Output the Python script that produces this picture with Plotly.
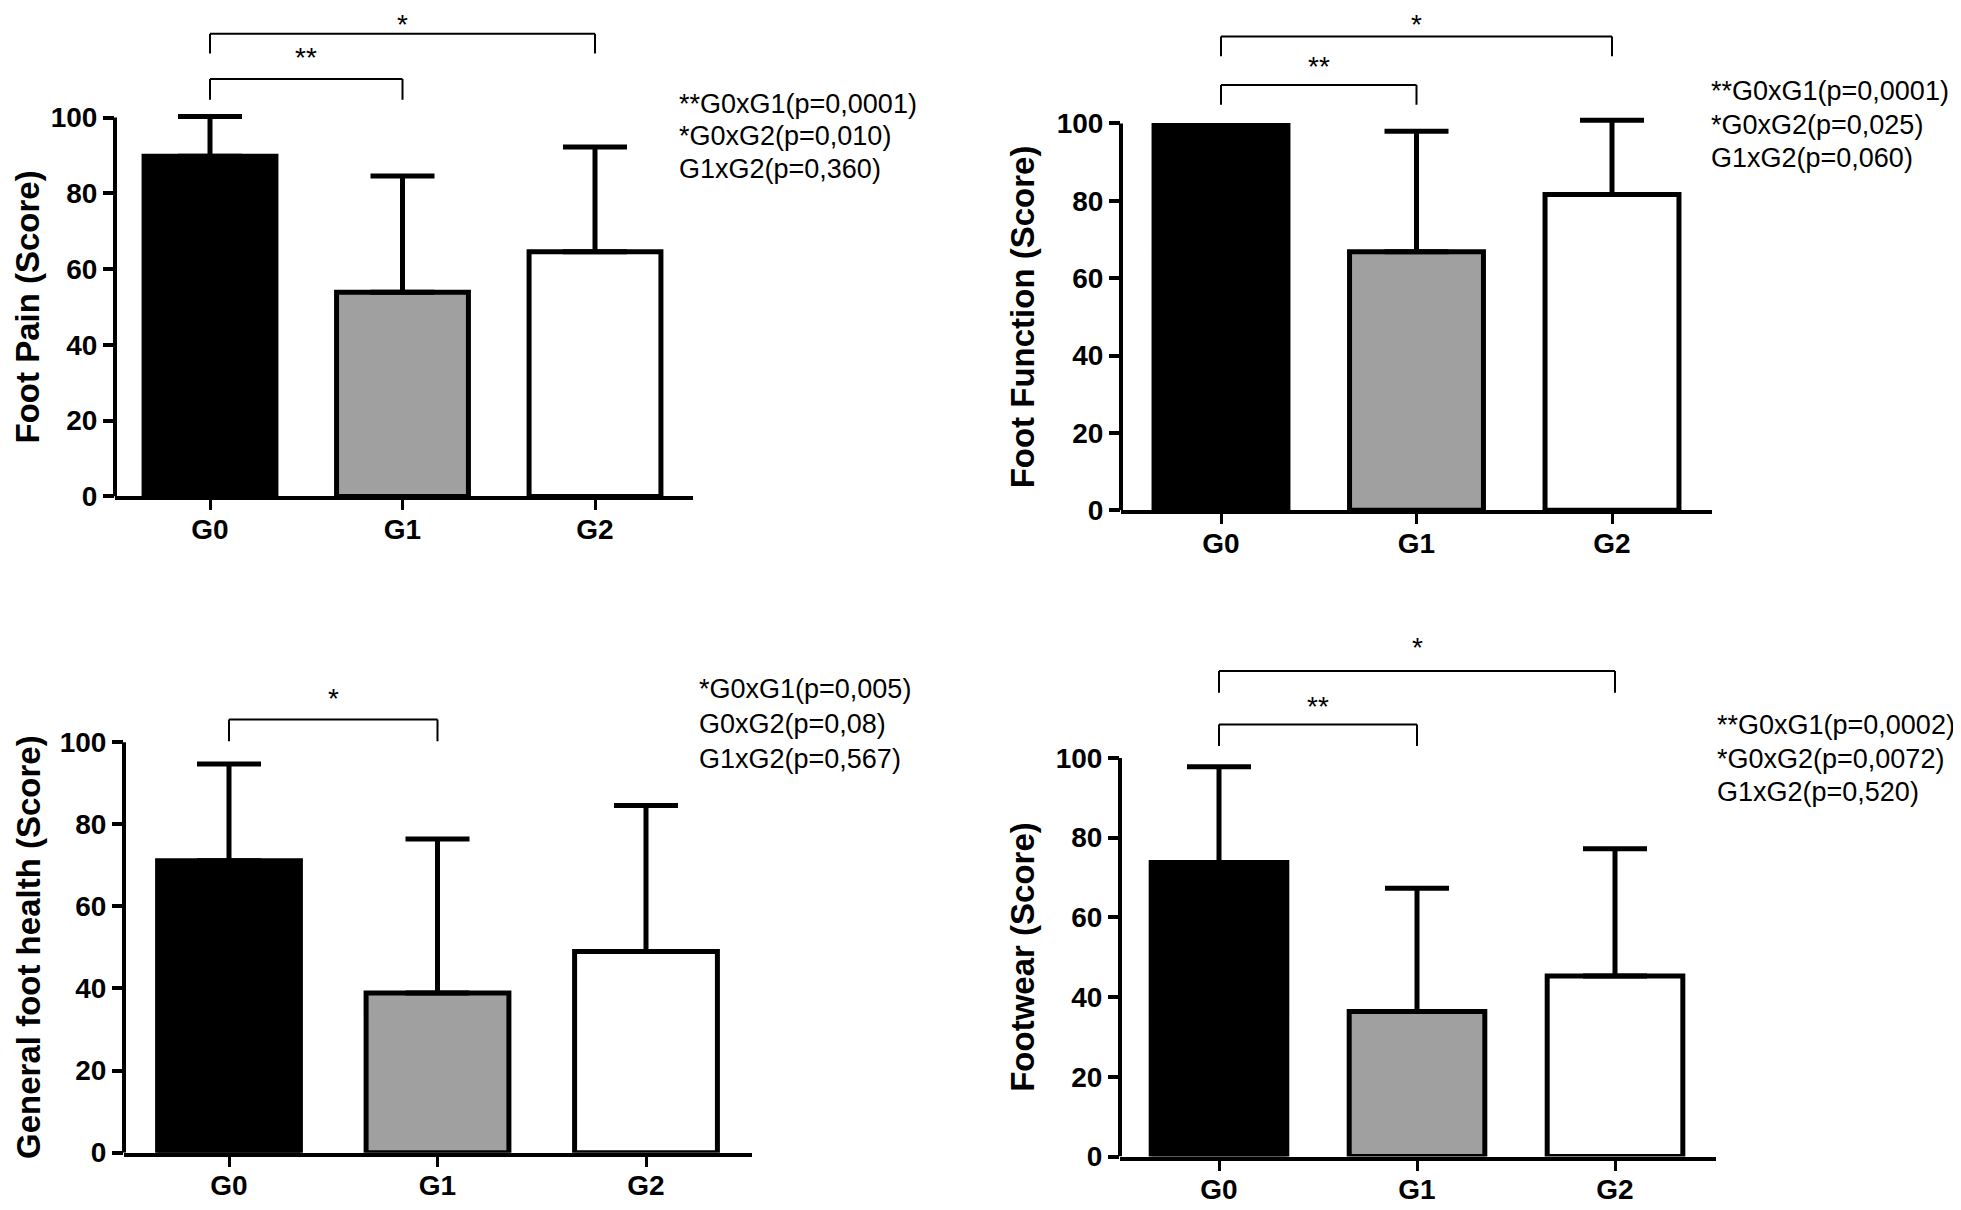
import plotly.graph_objects as go

W, H = 1961, 1210

groups = ["G0", "G1", "G2"]
bar_colors = ["#000000", "#a0a0a0", "#ffffff"]
y_ticks = [0, 20, 40, 60, 80, 100]

pain_mean = [89.8, 53.9, 64.6]
pain_sd = [10.5, 30.7, 27.6]
pain_pvals = ["**G0xG1(p=0,0001)", "*G0xG2(p=0,010)", "G1xG2(p=0,360)"]
pain_pairs = [(0, 2, "*"), (0, 1, "**")]

function_mean = [99.5, 66.8, 81.6]
function_sd = [0.0, 31.2, 19.2]
function_pvals = ["**G0xG1(p=0,0001)", "*G0xG2(p=0,025)", "G1xG2(p=0,060)"]
function_pairs = [(0, 2, "*"), (0, 1, "**")]

health_mean = [71.1, 38.9, 49.0]
health_sd = [23.6, 37.5, 35.6]
health_pvals = ["*G0xG1(p=0,005)", "G0xG2(p=0,08)", "G1xG2(p=0,567)"]
health_pairs = [(0, 1, "*")]

footwear_mean = [73.8, 36.4, 45.3]
footwear_sd = [24.0, 30.9, 31.9]
footwear_pvals = ["**G0xG1(p=0,0002)", "*G0xG2(p=0,0072)", "G1xG2(p=0,520)"]
footwear_pairs = [(0, 2, "*"), (0, 1, "**")]

titles = ["Foot Pain (Score)", "Foot Function (Score)",
          "General foot health (Score)", "Footwear (Score)"]

# pixel geometry of each panel (layout only)
# br: (bracket line px, bracket foot px, star glyph centre px)
panels = [
    dict(title=titles[0], mean=pain_mean, sd=pain_sd, pvals=pain_pvals, pairs=pain_pairs,
         xax=107, xg0=202, dx=192.5, y0=495, y100=111, tx=0, px=669, py=[97, 130, 163],
         br=[(26, 46, 10), (72, 93, 54)]),
    dict(title=titles[1], mean=function_mean, sd=function_sd, pvals=function_pvals, pairs=function_pairs,
         xax=1113, xg0=1213, dx=195.5, y0=509, y100=117, tx=995, px=1701, py=[84, 119, 152],
         br=[(29, 49, 12), (78, 98, 64)]),
    dict(title=titles[2], mean=health_mean, sd=health_sd, pvals=health_pvals, pairs=health_pairs,
         xax=116, xg0=221, dx=208.5, y0=1160, y100=744, tx=1, px=689, py=[690, 726, 761],
         br=[(721, 743, 704)]),
    dict(title=titles[3], mean=footwear_mean, sd=footwear_sd, pvals=footwear_pvals, pairs=footwear_pairs,
         xax=1112, xg0=1211, dx=198, y0=1164, y100=760, tx=995, px=1707, py=[727, 761, 794],
         br=[(672, 694, 652), (726, 748, 712)]),
]

R = 127
XMAX = 2.51
STAR_OFF = 21  # glyph centre below annotation box top
FONT = "Liberation Sans, Arial, sans-serif"
fig = go.Figure()
shapes, annotations = [], []
layout = {}

for k, p in enumerate(panels):
    s = "" if k == 0 else str(k + 1)
    xa, ya = "x" + s, "y" + s
    ppu = (p["y0"] - p["y100"]) / 100.0
    xmin = (p["xax"] - p["xg0"]) / p["dx"]
    xend = p["xg0"] + XMAX * p["dx"]
    yb = 1 - p["y0"] / H
    yt = 1 - (p["y0"] - R * ppu) / H
    fig.add_trace(go.Bar(
        x=groups, y=p["mean"], width=0.685,
        marker=dict(color=bar_colors, line=dict(color="black", width=5)),
        error_y=dict(type="data", array=p["sd"], arrayminus=[0] * 3, symmetric=False,
                     color="black", thickness=5, width=32),
        xaxis=xa, yaxis=ya, showlegend=False, cliponaxis=False, hoverinfo="skip"))
    layout["xaxis" + s] = dict(
        domain=[p["xax"] / W, xend / W], anchor=ya, range=[xmin, XMAX],
        showline=True, linewidth=4, linecolor="black", ticks="outside", ticklen=10,
        tickwidth=3, tickcolor="black", showgrid=False, zeroline=False,
        ticklabelstandoff=-5,
        tickfont=dict(family=FONT, size=28, color="black", weight="bold"))
    layout["yaxis" + s] = dict(
        domain=[yb, yt], anchor=xa, range=[0, R], tickvals=y_ticks,
        showline=False, ticks="outside", ticklen=11, tickwidth=4, tickcolor="black",
        showgrid=False, zeroline=False,
        tickfont=dict(family=FONT, size=28, color="black", weight="bold"))
    shapes.append(dict(type="line", xref=xa + " domain", yref=ya, x0=0, x1=0, y0=0, y1=100,
                       line=dict(color="black", width=4)))
    for (i, j, lab), (yh_px, yl_px, ys_px) in zip(p["pairs"], p["br"]):
        yh = (p["y0"] - yh_px) / ppu
        yl = (p["y0"] - yl_px) / ppu
        for seg in [(i, yl, i, yh), (i, yh, j, yh), (j, yh, j, yl)]:
            shapes.append(dict(type="line", xref=xa, yref=ya, x0=seg[0], y0=seg[1],
                               x1=seg[2], y1=seg[3], line=dict(color="black", width=2)))
        top_px = max(0, ys_px - STAR_OFF)
        annotations.append(dict(xref=xa, yref="paper", x=(i + j) / 2,
                                y=1 - top_px / H, text=lab, borderpad=0,
                                showarrow=False, yanchor="top", xanchor="center",
                                font=dict(family=FONT, size=28, color="black")))
    annotations.append(dict(xref="paper", yref=ya, x=p["tx"] / W, y=50, text=p["title"],
                            textangle=-90, showarrow=False, xanchor="left", yanchor="middle",
                            borderpad=0,
                            font=dict(family=FONT, size=33, color="black", weight="bold")))
    for t, yy in zip(p["pvals"], p["py"]):
        annotations.append(dict(xref="paper", yref="paper", x=p["px"] / W, y=1 - yy / H,
                                text=t, showarrow=False, xanchor="left", yanchor="middle",
                                font=dict(family=FONT, size=27, color="black")))

fig.update_layout(
    width=W, height=H, margin=dict(l=0, r=0, t=0, b=0),
    paper_bgcolor="white", plot_bgcolor="white",
    shapes=shapes, annotations=annotations, **layout)

fig.write_html("out.html")
